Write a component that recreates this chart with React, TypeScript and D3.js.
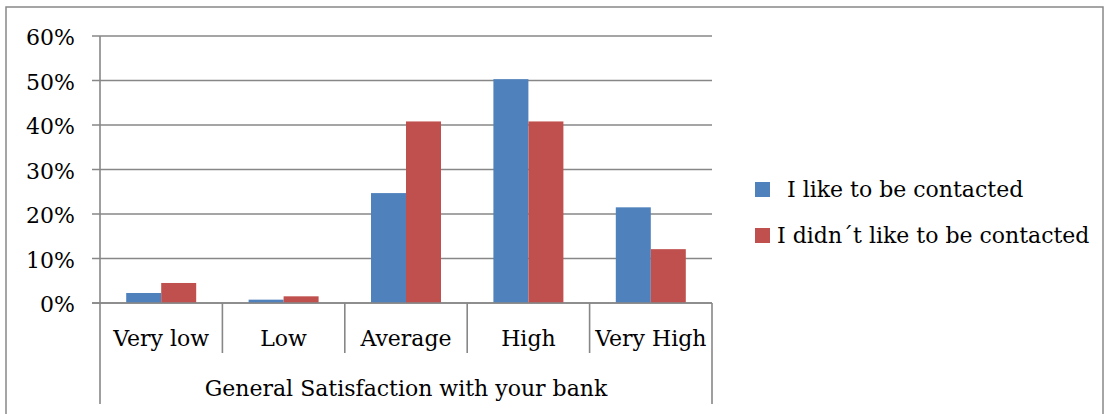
import React from "react";
import * as d3 from "d3";

const categories = ["Very low", "Low", "Average", "High", "Very High"];
const seriesNames = ["I like to be contacted", "I didn\u00b4t like to be contacted"];
const likeValues = [2.25, 0.75, 24.7, 50.3, 21.5];
const dislikeValues = [4.5, 1.5, 40.8, 40.8, 12.1];
const yTicks = [0, 10, 20, 30, 40, 50, 60];
const axisTitle = "General Satisfaction with your bank";
const colors = ["#4F81BD", "#C0504D"];

export default function App() {
  const W = 1106, H = 414;
  const left = 100, right = 712, top = 36, bottom = 303;
  const font = "'DejaVu Serif', serif";
  const x = d3.scaleBand<string>().domain(categories).range([left, right]).paddingInner(0).paddingOuter(0);
  const y = d3.scaleLinear().domain([0, 60]).range([bottom, top]);
  const barW = 35;
  const series = [likeValues, dislikeValues];
  const grid = "#878787";
  const bounds = [left, ...categories.map((c) => (x(c) as number) + x.bandwidth())];

  return (
    <svg width={W} height={H} style={{ position: "absolute", left: 0, top: 0, background: "#fff" }}>
      <rect x={6} y={7} width={1097} height={420} fill="#fff" stroke="#888" strokeWidth={1.5} />
      {yTicks.map((t) => (
        <g key={t}>
          <line x1={92} x2={right} y1={y(t)} y2={y(t)} stroke={grid} strokeWidth={1.6} />
          <text x={75} y={y(t) + 9} textAnchor="end" fontFamily={font} fontSize={22} fill="#000">
            {t}%
          </text>
        </g>
      ))}
      <line x1={left} x2={left} y1={top} y2={bottom} stroke={grid} strokeWidth={1.6} />
      {series.map((vals, si) =>
        categories.map((c, i) => {
          const cx = (x(c) as number) + x.bandwidth() / 2;
          const bx = cx - barW + si * barW;
          return (
            <rect key={c + si} x={bx} y={y(vals[i])} width={barW} height={y(0) - y(vals[i])} fill={colors[si]} />
          );
        })
      )}
      <line x1={92} x2={right} y1={bottom} y2={bottom} stroke={grid} strokeWidth={1.6} />
      {bounds.map((b, i) => (
        <line
          key={i}
          x1={b}
          x2={b}
          y1={bottom}
          y2={i === 0 || i === bounds.length - 1 ? 404 : 353}
          stroke={grid}
          strokeWidth={1.6}
        />
      ))}
      {categories.map((c) => (
        <text
          key={c}
          x={(x(c) as number) + x.bandwidth() / 2}
          y={346}
          textAnchor="middle"
          fontFamily={font}
          fontSize={22}
          fill="#000"
        >
          {c}
        </text>
      ))}
      <text x={(left + right) / 2} y={396} textAnchor="middle" fontFamily={font} fontSize={22} fill="#000">
        {axisTitle}
      </text>
      {seriesNames.map((n, i) => (
        <g key={n}>
          <rect x={755} y={182 + i * 46} width={15} height={15} fill={colors[i]} />
          <text x={i === 0 ? 787 : 777} y={197 + i * 46} fontFamily={font} fontSize={22} fill="#000">
            {n}
          </text>
        </g>
      ))}
    </svg>
  );
}
